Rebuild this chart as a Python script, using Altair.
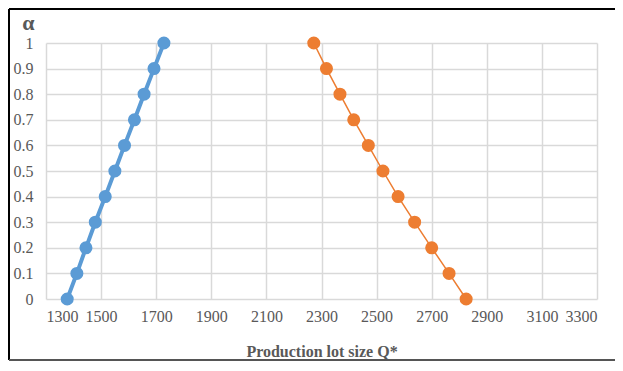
import altair as alt
import pandas as pd

alpha = [0, 0.1, 0.2, 0.3, 0.4, 0.5, 0.6, 0.7, 0.8, 0.9, 1.0]
blue_q = [1377, 1412, 1445, 1479, 1515, 1550, 1585, 1621, 1656, 1692, 1728]
orange_q = [2825, 2763, 2700, 2638, 2578, 2523, 2470, 2417, 2367, 2318, 2272]
x_ticks = [1300, 1500, 1700, 1900, 2100, 2300, 2500, 2700, 2900, 3100, 3300]
y_ticks = [0, 0.1, 0.2, 0.3, 0.4, 0.5, 0.6, 0.7, 0.8, 0.9, 1.0]

BLUE = "#5b9bd5"
ORANGE = "#ed7d31"
FONT = "Liberation Serif"
W, H = 551, 256

df_blue = pd.DataFrame({"q": blue_q, "a": alpha})
df_orange = pd.DataFrame({"q": orange_q, "a": alpha})

x_enc = alt.X(
    "q:Q",
    scale=alt.Scale(domain=[1300, 3300], nice=False),
    axis=alt.Axis(
        values=x_ticks, tickCount=len(x_ticks), format="d", grid=True, gridColor="#d9d9d9",
        gridWidth=1.5, domain=False, ticks=False, labelFont=FONT, labelFontSize=16,
        labelColor="#595959", labelPadding=9, labelOverlap=False,
        title="Production lot size Q*", titleFont=FONT, titleFontSize=16,
        titleFontWeight="bold", titleColor="#595959", titleY=52, titleBaseline="middle",
    ),
)
y_enc = alt.Y(
    "a:Q",
    scale=alt.Scale(domain=[0, 1], nice=False),
    axis=alt.Axis(
        values=y_ticks, tickCount=len(y_ticks), format="~g", grid=True, gridColor="#d9d9d9",
        gridWidth=1.5, domain=False, ticks=False, labelFont=FONT, labelFontSize=16,
        labelColor="#595959", labelPadding=13, labelOverlap=False,
        title="α", titleAngle=0, titleFont=FONT, titleFontSize=22,
        titleFontWeight="bold", titleColor="#595959", titleX=-18, titleY=-14,
        titleAlign="center", titleBaseline="alphabetic",
    ),
)

blue_line = alt.Chart(df_blue).mark_line(color=BLUE, strokeWidth=4).encode(x=x_enc, y=y_enc)
blue_pts = alt.Chart(df_blue).mark_circle(color=BLUE, size=170, opacity=1).encode(x="q:Q", y="a:Q")
orange_line = alt.Chart(df_orange).mark_line(color=ORANGE, strokeWidth=1.5).encode(x="q:Q", y="a:Q")
orange_pts = alt.Chart(df_orange).mark_circle(color=ORANGE, size=170, opacity=1).encode(x="q:Q", y="a:Q")

frame_data = alt.Data(values=[{}])
top_rule = alt.Chart(frame_data).mark_rule(color="black", strokeWidth=2).encode(
    x=alt.value(-37), x2=alt.value(W + 60), y=alt.value(-34), y2=alt.value(-34))
left_rule = alt.Chart(frame_data).mark_rule(color="black", strokeWidth=2).encode(
    x=alt.value(-37), x2=alt.value(-37), y=alt.value(-34), y2=alt.value(H + 61))
bottom_rule = alt.Chart(frame_data).mark_rule(color="#555555", strokeWidth=2).encode(
    x=alt.value(-37), x2=alt.value(W + 60), y=alt.value(H + 61), y2=alt.value(H + 61))

chart = alt.layer(
    blue_line, blue_pts, orange_line, orange_pts, top_rule, left_rule, bottom_rule
).properties(
    width=W, height=H,
    padding={"left": 38, "top": 35, "right": 18, "bottom": 62},
    autosize=alt.AutoSizeParams(type="none"),
    background="white",
).configure_view(stroke=None)

chart.save("out.html", embed_options={"renderer": "svg", "actions": False})
